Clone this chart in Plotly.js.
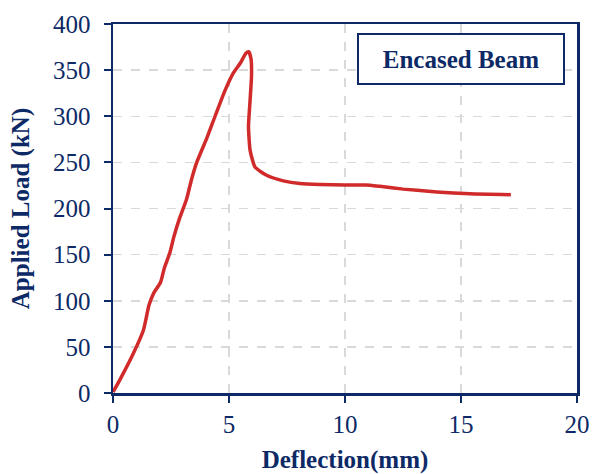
<!DOCTYPE html>
<html>
<head>
<meta charset="utf-8">
<script src="https://cdn.plot.ly/plotly-3.0.1.min.js"></script>
<style>html,body{margin:0;padding:0;background:#fff;}#chart{width:593px;height:474px;}</style>
</head>
<body>
<div id="chart"></div>
<script>
// Deflection (mm) and applied load (kN)
const deflection = [0, 0.29, 0.88, 1.31, 1.55, 1.75, 2.05, 2.22, 2.45, 2.62, 2.85, 3.17, 3.39, 3.61, 4.04, 4.40, 4.83, 5.19, 5.50, 5.72, 5.85, 5.95, 5.97, 5.90, 5.84, 5.91, 6.12, 6.62, 7.34, 8.06, 8.92, 10.0, 10.9, 11.5, 12.51, 13.95, 15.39, 17.15];
const load =       [1, 14, 43, 68, 95, 108, 120, 136, 152, 169, 188, 210, 232, 250, 276, 300, 328, 347, 358, 368, 370, 362, 343, 314, 289, 263, 245, 236, 230, 227, 226, 225.5, 225.5, 224, 221, 218, 216, 215];
const xTicks = [0, 5, 10, 15, 20];
const yTicks = [0, 50, 100, 150, 200, 250, 300, 350, 400];
const seriesLabel = 'Encased Beam';

const navy = '#0d2a66';
const serif = '"Liberation Serif", "Times New Roman", Times, serif';
const trace = {
  x: deflection, y: load, mode: 'lines', type: 'scatter',
  line: {color: '#d02a2a', width: 3.5, shape: 'spline', smoothing: 0.5},
  hoverinfo: 'skip', showlegend: false
};
const axisCommon = {
  showline: true, linecolor: navy, linewidth: 2.5, mirror: true,
  ticks: 'outside', ticklen: 7, tickwidth: 2, tickcolor: navy,
  showgrid: true, gridcolor: '#d9d9d9', gridwidth: 1.5, griddash: 'dash',
  zeroline: false,
  tickfont: {family: serif, size: 25, color: navy}
};
const layout = {
  width: 593, height: 474,
  margin: {l: 113, r: 16, t: 24, b: 81},
  paper_bgcolor: '#fff', plot_bgcolor: '#fff',
  xaxis: Object.assign({}, axisCommon, {
    range: [0, 20], tickvals: xTicks, ticktext: xTicks.map(String), ticklabelstandoff: 0,
    title: {text: '<b>Deflection(mm)</b>', standoff: 17,
      font: {family: serif, size: 25, color: navy}}
  }),
  yaxis: Object.assign({}, axisCommon, {
    range: [0, 400], tickvals: yTicks, ticktext: yTicks.map(String), ticklabelstandoff: 8,
    title: {text: '<b>Applied Load (kN)</b>', standoff: 17,
      font: {family: serif, size: 25, color: navy}}
  }),
  annotations: [{
    xref: 'paper', yref: 'paper', x: 0.751, y: 0.904, xanchor: 'center', yanchor: 'middle',
    text: '<b>' + seriesLabel + '</b>', showarrow: false,
    font: {family: serif, size: 25, color: navy},
    bordercolor: navy, borderwidth: 2, borderpad: 2, bgcolor: '#fff',
    width: 200, height: 44
  }]
};
Plotly.newPlot('chart', [trace], layout, {displayModeBar: false, staticPlot: true});
</script>
</body>
</html>
